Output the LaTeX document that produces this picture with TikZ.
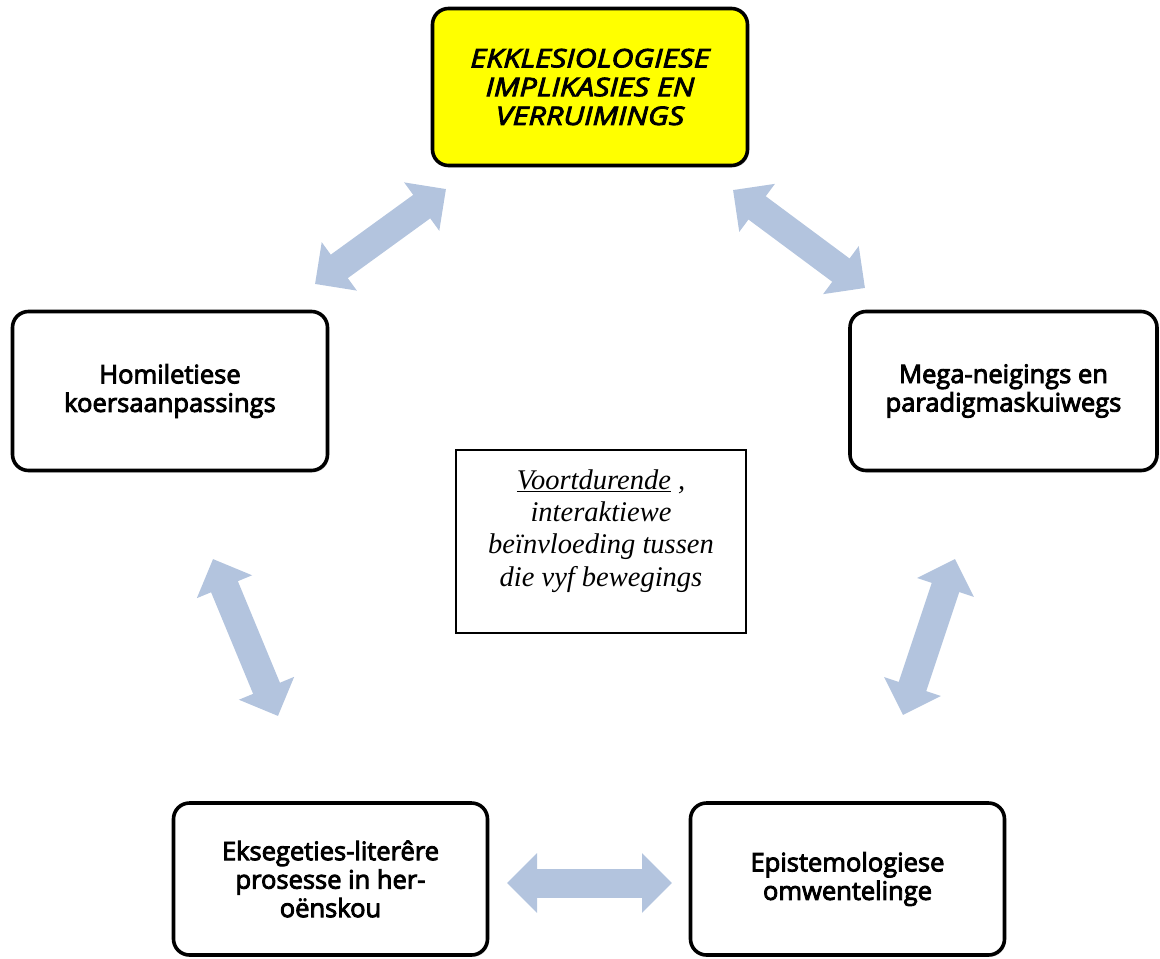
\documentclass[tikz,border=0pt]{standalone}
\usepackage{fontspec}
\setmainfont{Liberation Serif}
\newfontfamily\boxfont[FakeBold=3.5]{Open Sans}
\newfontfamily\keyfont[FakeBold=3.5, FakeStretch=1.2]{Open Sans}
\usetikzlibrary{arrows.meta,shadows}
\definecolor{linkblue}{HTML}{B3C4DE}
\definecolor{hiyellow}{HTML}{FFFF00}
\tikzset{
  stage/.style={draw=black, line width=3.6pt, rounded corners=16pt, fill=white,
    align=center, inner sep=0pt, font=\boxfont\fontsize{25.5}{28.5}\selectfont,
    drop shadow={shadow xshift=1.5pt, shadow yshift=-1.8pt, opacity=0.35}},
  keystage/.style={stage, fill=hiyellow, font=\keyfont\itshape\fontsize{25.5}{28.8}\selectfont},
  notebox/.style={draw=black, line width=1.3pt, inner sep=0pt},
  link/.style={draw=linkblue, line width=29pt,
    {Triangle[length=30pt,width=58pt]}-{Triangle[length=30pt,width=58pt]}}
}
\begin{document}
\begin{tikzpicture}[x=1pt,y=-1pt]
\useasboundingbox (0,0) rectangle (1160,959);

% five movements
\node[keystage, minimum width=315pt, minimum height=157pt] (top) at (590,87)
  {EKKLESIOLOGIESE\\IMPLIKASIES EN\\VERRUIMINGS};
\node[stage, minimum width=315pt, minimum height=159pt] (left) at (170,391)
  {Homiletiese\\koersaanpassings};
\node[stage, minimum width=307pt, minimum height=159pt] (right) at (1003.5,391)
  {Mega-neigings en\\paradigmaskuiwegs};
\node[stage, minimum width=314pt, minimum height=152pt] (botl) at (330.5,879)
  {Eksegeties-literêre\\prosesse in her-\\oënskou};
\node[stage, minimum width=314pt, minimum height=152pt] (botr) at (847.5,879)
  {Epistemologiese\\omwentelinge};

% central note
\node[notebox, minimum width=290pt, minimum height=183pt] (note) at (601,541.5) {};
\node[align=center, inner sep=0pt, font=\itshape\fontsize{28.5}{32.3}\selectfont] (notetext) at (601,531)
  {\underline{Voortdurende} ,\\interaktiewe\\beïnvloeding tussen\\die vyf bewegings};

% ends of the two-way links
\coordinate (l1a) at (315,284);
\coordinate (l1b) at (446,189);
\coordinate (l2a) at (733,190);
\coordinate (l2b) at (865,288);
\coordinate (l3a) at (213,559);
\coordinate (l3b) at (278,716);
\coordinate (l4a) at (955,559);
\coordinate (l4b) at (903,715);
\coordinate (l5a) at (507,883);
\coordinate (l5b) at (672,883);

\draw[link] (l1a) -- (l1b);
\draw[link] (l2a) -- (l2b);
\draw[link] (l3a) -- (l3b);
\draw[link] (l4a) -- (l4b);
\draw[link] (l5a) -- (l5b);
\end{tikzpicture}
\end{document}
